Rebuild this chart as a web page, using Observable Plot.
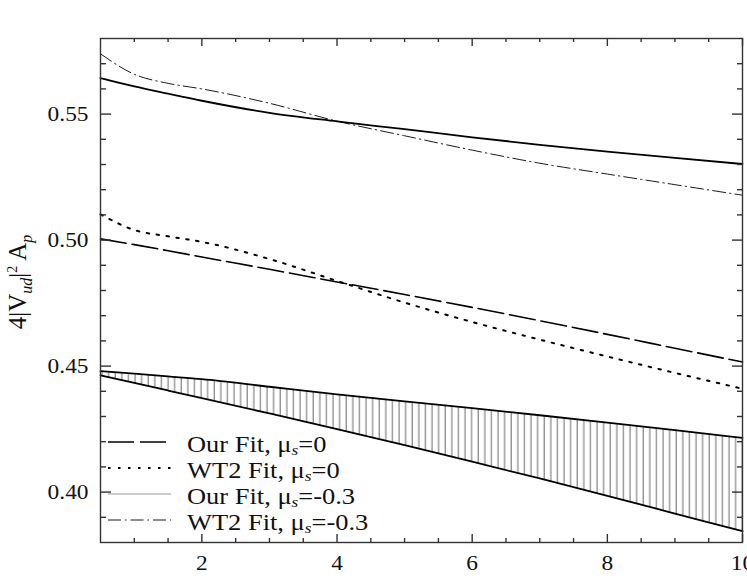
<!DOCTYPE html>
<html><head><meta charset="utf-8">
<script src="https://cdn.jsdelivr.net/npm/d3@7"></script>
<script src="https://cdn.jsdelivr.net/npm/@observablehq/plot@0.6"></script>
<style>
body{margin:0;background:#fff;}
#chart{position:relative;width:747px;height:581px;overflow:hidden;}
</style>
</head><body><div id="chart"></div>
<script>
// ---- data ----
const xValues      = [0.5,   1,      1.5,    2,      3,      4,      5,      6,      7,      8,      9,      10];
const upperSolid   = [0.5643,0.5610, 0.5581, 0.5553, 0.5505, 0.5471, 0.5440, 0.5408, 0.5378, 0.5351, 0.5326, 0.5302];
const wt2Mu03      = [0.5739,0.5658, 0.5622, 0.5600, 0.5543, 0.5472, 0.5414, 0.5357, 0.5305, 0.5262, 0.5220, 0.5178];
const ourFitMu0    = [0.5005,0.4982, 0.4958, 0.4933, 0.4884, 0.4834, 0.4784, 0.4733, 0.4680, 0.4626, 0.4571, 0.4516];
const wt2FitMu0    = [0.5102,0.5040, 0.5015, 0.4993, 0.4925, 0.4838, 0.4752, 0.4675, 0.4605, 0.4538, 0.4473, 0.4410];
const bandUpper    = [0.4480,0.4470, 0.4459, 0.4448, 0.4418, 0.4388, 0.4360, 0.4333, 0.4305, 0.4276, 0.4246, 0.4215];
const bandLower    = [0.4463,0.4433, 0.4403, 0.4373, 0.4312, 0.4250, 0.4186, 0.4121, 0.4054, 0.3985, 0.3915, 0.3845];

const xMajor = [2, 4, 6, 8, 10];
const xMinor = [1, 1.5, 2.5, 3, 3.5, 4.5, 5, 5.5, 6.5, 7, 7.5, 8.5, 9, 9.5];
const yMajor = [0.40, 0.45, 0.50, 0.55];
const yMinor = [0.39, 0.41, 0.42, 0.43, 0.44, 0.46, 0.47, 0.48, 0.49, 0.51, 0.52, 0.53, 0.54, 0.56, 0.57];

const legendLabels = [
  {pre: "Our Fit, μ", sub: "s", post: "=0"},
  {pre: "WT2 Fit, μ", sub: "s", post: "=0"},
  {pre: "Our Fit, μ", sub: "s", post: "=-0.3"},
  {pre: "WT2 Fit, μ", sub: "s", post: "=-0.3"}
];

const rows = xValues.map((x, i) => ({
  x, a: upperSolid[i], b: wt2Mu03[i], c: ourFitMu0[i], d: wt2FitMu0[i],
  hi: bandUpper[i], lo: bandLower[i]
}));

const W = 747, H = 581, mL = 100, mR = 5, mT = 38, mB = 39;
const fw = W - mL - mR, fh = H - mT - mB;   // frame size in px
const font = "Liberation Serif, Times New Roman, serif";
const curve = "monotone-x";
const tkStyle = {stroke: "#333", strokeWidth: 1.4};

const svg = Plot.plot({
  width: W, height: H,
  marginLeft: mL, marginRight: mR, marginTop: mT, marginBottom: mB,
  style: {fontFamily: font, background: "white", color: "#111"},
  x: {domain: [0.5, 10]},
  y: {domain: [0.38, 0.58]},
  marks: [
    Plot.areaY(rows, {x: "x", y1: "lo", y2: "hi", fill: "url(#hatch)", curve}),
    Plot.line(rows, {x: "x", y: "hi", stroke: "#000", strokeWidth: 1.8, curve}),
    Plot.line(rows, {x: "x", y: "lo", stroke: "#000", strokeWidth: 1.8, curve}),
    Plot.line(rows, {x: "x", y: "a", stroke: "#000", strokeWidth: 1.8, curve}),
    Plot.line(rows, {x: "x", y: "b", stroke: "#000", strokeWidth: 0.9, strokeDasharray: "13,4,1.5,4", curve}),
    Plot.line(rows, {x: "x", y: "c", stroke: "#000", strokeWidth: 1.6, strokeDasharray: "26,6", curve}),
    Plot.line(rows, {x: "x", y: "d", stroke: "#000", strokeWidth: 2, strokeDasharray: "2.5,7.5", curve}),
    Plot.frame({stroke: "#333", strokeWidth: 1.4}),
    // inward ticks on all four sides
    Plot.ruleX(xMajor, {insetTop: fh - 8, ...tkStyle}),
    Plot.ruleX(xMinor, {insetTop: fh - 4, ...tkStyle}),
    Plot.ruleX(xMajor, {insetBottom: fh - 8, ...tkStyle}),
    Plot.ruleX(xMinor, {insetBottom: fh - 4, ...tkStyle}),
    Plot.ruleY(yMajor, {insetRight: fw - 11, ...tkStyle}),
    Plot.ruleY(yMinor, {insetRight: fw - 6, ...tkStyle}),
    Plot.ruleY(yMajor, {insetLeft: fw - 10, ...tkStyle}),
    Plot.ruleY(yMinor, {insetLeft: fw - 5, ...tkStyle}),
    // tick labels
    Plot.axisX(xMajor, {anchor: "bottom", tickSize: 0, tickPadding: 13, fontSize: 20, label: null, tickFormat: d3.format("d"), fill: "#111"}),
    Plot.axisY(yMajor, {anchor: "left", tickSize: 0, tickPadding: 12, fontSize: 20, label: null, tickFormat: d3.format(".2f"), fill: "#111"})
  ]
});

document.getElementById("chart").appendChild(svg);
const s = d3.select(svg);

// hatch pattern
const pat = s.insert("defs", ":first-child").append("pattern")
  .attr("id", "hatch").attr("patternUnits", "userSpaceOnUse")
  .attr("width", 6.6).attr("height", 10);
pat.append("line").attr("x1", 3).attr("x2", 3).attr("y1", 0).attr("y2", 10)
  .attr("stroke", "#6a6a6a").attr("stroke-width", 1);

// stretch tick labels horizontally like the reference lettering
s.selectAll("g[aria-label$='tick label'] text").each(function() {
  const w = this.getComputedTextLength();
  if (w > 0) {
    this.setAttribute("textLength", (w * 1.17).toFixed(1));
    this.setAttribute("lengthAdjust", "spacingAndGlyphs");
  }
});

// y-axis title 4|V_ud|^2 A_p
const yl = s.append("text")
  .attr("transform", "translate(26,282) rotate(-90)")
  .attr("text-anchor", "middle")
  .attr("font-family", font).attr("font-size", 25).attr("fill", "#111");
yl.append("tspan").text("4|V");
yl.append("tspan").attr("dy", 6).attr("font-size", 16).attr("font-style", "italic").text("ud");
yl.append("tspan").attr("dy", -6).text("|");
yl.append("tspan").attr("dy", -9).attr("font-size", 14).text("2");
yl.append("tspan").attr("dy", 9).text(" A");
yl.append("tspan").attr("dy", 6).attr("font-size", 16).attr("font-style", "italic").text("p");

// legend (inside plot, lower left)
const leg = s.append("g").attr("font-family", font).attr("font-size", 23)
  .attr("fill", "#111").attr("text-anchor", "start");
const samples = [
  {stroke: "#000", width: 1.6, dash: "26,6"},
  {stroke: "#000", width: 2, dash: "2.5,7.5"},
  {stroke: "#999", width: 1, dash: null},
  {stroke: "#000", width: 0.9, dash: "13,4,1.5,4"}
];
legendLabels.forEach((lab, i) => {
  const yy = 442 + i * 26;
  const ln = leg.append("line").attr("x1", 108).attr("x2", 171).attr("y1", yy).attr("y2", yy)
    .attr("stroke", samples[i].stroke).attr("stroke-width", samples[i].width);
  if (samples[i].dash) ln.attr("stroke-dasharray", samples[i].dash);
  const t = leg.append("text").attr("x", 187).attr("y", yy + 10);
  t.append("tspan").text(lab.pre);
  t.append("tspan").attr("dy", 3).attr("font-size", 15).attr("font-style", "italic").text(lab.sub);
  t.append("tspan").attr("dy", -3).text(lab.post);
  const w = t.node().getComputedTextLength();
  if (w > 0) t.attr("textLength", (w * 1.15).toFixed(1)).attr("lengthAdjust", "spacingAndGlyphs");
});
</script>
</body></html>
